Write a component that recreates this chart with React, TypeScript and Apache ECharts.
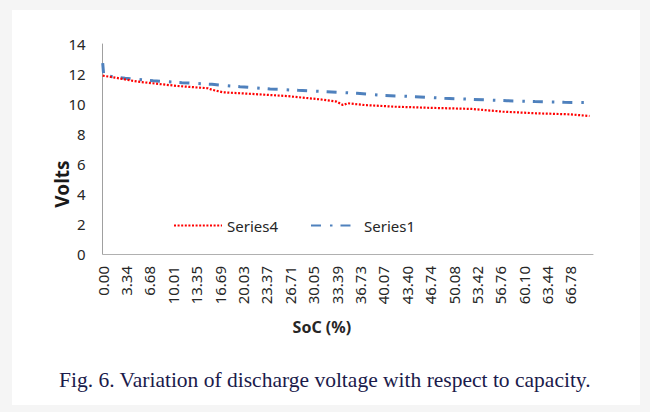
import React, { useEffect, useRef } from "react";
import * as echarts from "echarts";

const tickLabels = [
  "0.00", "3.34", "6.68", "10.01", "13.35", "16.69", "20.03", "23.37", "26.71", "30.05",
  "33.39", "36.73", "40.07", "43.40", "46.74", "50.08", "53.42", "56.76", "60.10", "63.44", "66.78",
];
const tickStep = 3.339;

const series4Soc = [0, 1.75, 5.0, 10.7, 15.0, 15.6, 17.2, 21.4, 26.3, 31.0, 33.4, 34.3, 35.0, 37.4, 41.7, 46.4, 52.7, 57.1, 61.9, 66.7, 69.5];
const series4Volts = [11.89, 11.76, 11.49, 11.2, 11.05, 10.95, 10.78, 10.67, 10.53, 10.31, 10.16, 9.93, 10.05, 9.93, 9.82, 9.75, 9.67, 9.49, 9.38, 9.31, 9.2];

const series1Soc = [0, 0.15, 3.2, 7.2, 11.3, 15.6, 19.6, 23.9, 27.9, 32.0, 36.3, 40.3, 44.6, 48.8, 52.7, 57.7, 61.7, 65.9, 69.8];
const series1Volts = [12.73, 11.9, 11.71, 11.55, 11.42, 11.31, 11.15, 11.0, 10.91, 10.82, 10.71, 10.56, 10.49, 10.38, 10.31, 10.22, 10.16, 10.11, 10.09];

const FONT = "Noto Sans";

export default function App() {
  const ref = useRef<HTMLDivElement>(null);
  useEffect(() => {
    if (!ref.current) return;
    const chart = echarts.init(ref.current, null, { renderer: "svg" });
    const s4 = series4Soc.map((x, i) => [x, series4Volts[i]]);
    const s1 = series1Soc.map((x, i) => [x, series1Volts[i]]);
    chart.setOption({
      animation: false,
      grid: { left: 102.7, right: 57, top: 44, bottom: 158, containLabel: false },
      legend: {
        left: 168,
        top: 213,
        itemWidth: 48,
        itemHeight: 14,
        itemGap: 32,
        itemStyle: { opacity: 0 },
        textStyle: { fontFamily: FONT, fontSize: 15, color: "#262626" },
        data: ["Series4", "Series1"],
      },
      xAxis: {
        type: "value",
        min: 0,
        max: 70,
        interval: tickStep,
        name: "SoC (%)",
        nameLocation: "middle",
        nameGap: 65,
        nameMoveOverlap: false,
        nameTextStyle: { fontFamily: FONT, fontSize: 16, fontWeight: "bold", color: "#262626", padding: [0, 52, 0, 0] },
        axisLine: { show: true, lineStyle: { color: "#b0b0b0", width: 1 } },
        axisTick: { show: false },
        splitLine: { show: false },
        axisLabel: {
          rotate: 90,
          margin: 12,
          fontFamily: FONT,
          fontSize: 15,
          color: "#262626",
          formatter: (v: number) => {
            const idx = Math.round(v / tickStep);
            if (Math.abs(v - idx * tickStep) < 0.01 && idx < tickLabels.length) return tickLabels[idx];
            return "";
          },
        },
      },
      yAxis: {
        type: "value",
        min: 0,
        max: 14,
        interval: 2,
        name: "Volts",
        nameLocation: "middle",
        nameGap: 31,
        nameMoveOverlap: false,
        nameTextStyle: { fontFamily: FONT, fontSize: 19, fontWeight: "bold", color: "#1a1a1a", padding: [0, 70, 0, 0] },
        axisLine: { show: true, lineStyle: { color: "#a0a0a0", width: 1 } },
        axisTick: { show: false },
        splitLine: { show: false },
        axisLabel: { margin: 17, fontFamily: FONT, fontSize: 15, color: "#262626" },
      },
      series: [
        {
          name: "Series1",
          type: "line",
          data: s1,
          symbol: "none",
          z: 2,
          lineStyle: { color: "#4f81bd", width: 3, type: [10, 9, 2.5, 8], cap: "butt" },
          itemStyle: { color: "#4f81bd" },
        },
        {
          name: "Series4",
          type: "line",
          data: s4,
          symbol: "none",
          z: 3,
          lineStyle: { color: "#ff0000", width: 2.2, type: [2, 1.6], cap: "butt" },
          itemStyle: { color: "#ff0000" },
        },
      ],
      graphic: [
        {
          type: "text",
          left: "center",
          top: 369,
          style: {
            text: "Fig. 6. Variation of discharge voltage with respect to capacity.",
            fontFamily: "Liberation Serif",
            fontSize: 21.5,
            fill: "#1b1b4b",
          },
        },
      ],
    });
    return () => chart.dispose();
  }, []);
  return (
    <div style={{ position: "fixed", left: 0, top: 0, width: 650, height: 412, background: "#f5f5f5" }}>
      <div style={{ position: "absolute", left: 12, top: 10, width: 628, height: 395, background: "#ffffff" }} />
      <div ref={ref} style={{ position: "absolute", left: 0, top: 0, width: 650, height: 412 }} />
    </div>
  );
}
